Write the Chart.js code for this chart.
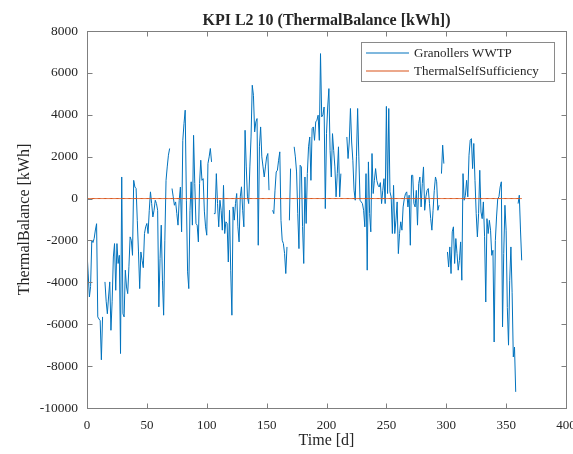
<!DOCTYPE html>
<html><head><meta charset="utf-8">
<script src="https://cdn.jsdelivr.net/npm/chart.js@4"></script>
<style>html,body{margin:0;padding:0;background:#fff;overflow:hidden}canvas{display:block}</style>
</head><body>
<canvas id="c" width="573" height="454" style="width:573px;height:454px"></canvas>
<script>
const chartTitle = 'KPI L2 10 (ThermalBalance [kWh])';
const xTitle = 'Time [d]';
const yTitle = 'ThermalBalance [kWh]';
const seriesNames = ['Granollers WWTP', 'ThermalSelfSufficiency'];
const xTicks = [0, 50, 100, 150, 200, 250, 300, 350, 400];
const yTicks = [-10000, -8000, -6000, -4000, -2000, 0, 2000, 4000, 6000, 8000];
const selfSufficiencyLevel = 0;
// daily thermal balance [kWh], day 0 .. 363 (null = missing day)
const thermalBalance = [
  -2550,-3600,-4700,-4200,-2000,-2100,-1900,-1500,-1200,-5650,
  -5750,-5830,-7700,-5650,null,-3980,-4900,-5500,-4700,-3980,
  -6290,-4900,-2790,-2150,-4380,-2150,-3100,-2710,-7400,1030,
  -5500,-5650,-3420,-4220,-4540,-3260,-1830,-1990,-2710,870,
  550,480,-1040,-2550,-4300,-2550,-2950,-3300,-1670,-1350,
  -1190,-1670,-560,320,-240,-880,-560,-80,-240,-560,
  -5170,-2870,-1270,-3900,-5570,-1990,870,1510,2070,2390,
  null,480,80,-320,-160,-720,-1270,-80,550,-1590,
  2780,3580,4220,-80,-3500,-4300,-560,800,-1270,3020,
  720,-1190,-1270,-2070,720,1830,870,950,-600,-1350,
  -1750,1670,1990,2390,1750,null,-720,-720,1190,-240,
  -1350,-80,-560,-1510,630,-1670,-1110,-1190,-3030,-560,
  -3420,-5570,-400,-1030,-240,240,-1350,-2070,80,560,
  -560,-1350,3260,1510,80,-240,1510,2940,5410,4930,
  3180,3660,3820,-2230,2500,3420,1990,1510,1030,1510,
  1990,2150,400,null,null,-560,-720,400,1270,1350,
  1830,2230,-1040,-1990,-2150,-2630,-3580,-2310,null,-1040,
  1430,null,null,2470,1990,1270,-720,-2390,1590,1510,
  -1340,-3100,1030,-1190,1190,2470,2940,870,3340,3420,
  2780,3660,3740,3980,2780,6920,3900,4000,4370,-480,
  3100,4370,5250,2300,1030,3100,2300,1510,80,1190,
  2470,80,1190,null,null,null,null,2940,1910,2700,
  4300,2700,1830,400,-80,1990,4300,1990,-80,-160,
  -240,-560,-1350,1190,-3420,1750,-720,-1590,2150,240,
  870,1430,870,640,550,760,-240,390,950,-240,
  4400,240,4300,320,80,-1670,630,-1670,-1030,-160,
  -2630,-1670,-1110,-1510,-400,0,240,320,-400,160,
  -2230,1110,1110,-240,-400,390,-1270,720,1030,-400,
  720,1510,-560,80,390,480,-240,-950,-1510,-560,
  390,1030,800,-560,-320,null,1190,2550,1670,null,
  null,-2550,-3270,-2310,-3580,-1590,-1350,-3100,-1910,-2630,
  -3420,-2950,-2070,-3900,1190,-80,160,870,80,2070,
  2780,2860,1430,2630,870,-720,-1830,-720,1350,-640,
  -960,-160,-1800,-4940,-960,-1670,-1040,-1510,-2710,-2470,
  -6850,-2000,-880,0,80,550,800,-6130,-2630,-320,
  -1510,-5200,-7000,-3900,-2310,-4500,-7560,-7090,-9230,null,
  -240,160,-1500,-2950
];
const days = thermalBalance.map((_, i) => i);

const FONT = '"Liberation Serif", "Times New Roman", serif';
const AXIS = '#7f7f7f';
const TEXT = '#262626';
const COLORS = ['#0072BD', '#D95319'];

const boxTicksLegend = {
  id: 'boxTicksLegend',
  afterDraw(chart) {
    const {ctx, chartArea: a, scales: {x, y}} = chart;
    ctx.save();
    // title centred over the axes
    ctx.fillStyle = TEXT;
    ctx.font = 'bold 16px ' + FONT;
    ctx.textAlign = 'center';
    ctx.textBaseline = 'alphabetic';
    ctx.fillText(chartTitle, (a.left + a.right) / 2, 25);
    // axes box and inward ticks
    ctx.strokeStyle = AXIS;
    ctx.lineWidth = 1;
    const L = Math.round(a.left) + 0.5, R = Math.round(a.right) + 0.5;
    const T = Math.round(a.top) + 0.5, B = Math.round(a.bottom) + 0.5;
    ctx.strokeRect(L, T, R - L, B - T);
    const tl = 5;
    ctx.beginPath();
    xTicks.forEach(v => {
      const px = Math.round(x.getPixelForValue(v)) + 0.5;
      ctx.moveTo(px, B); ctx.lineTo(px, B - tl);
      ctx.moveTo(px, T); ctx.lineTo(px, T + tl);
    });
    yTicks.forEach(v => {
      const py = Math.round(y.getPixelForValue(v)) + 0.5;
      ctx.moveTo(L, py); ctx.lineTo(L + tl, py);
      ctx.moveTo(R, py); ctx.lineTo(R - tl, py);
    });
    ctx.stroke();
    // legend box (top-right, inside axes)
    const bx = 361.5, by = 42.5, bw = 193, bh = 39;
    ctx.fillStyle = '#fff';
    ctx.fillRect(bx, by, bw, bh);
    ctx.strokeStyle = '#8a8a8a';
    ctx.strokeRect(bx, by, bw, bh);
    ctx.font = '13px ' + FONT;
    ctx.textAlign = 'left';
    ctx.textBaseline = 'middle';
    seriesNames.forEach((name, i) => {
      const ly = 53 + i * 18;
      ctx.strokeStyle = COLORS[i];
      ctx.lineWidth = 1.2;
      ctx.beginPath(); ctx.moveTo(366, ly); ctx.lineTo(409, ly); ctx.stroke();
      ctx.fillStyle = TEXT;
      ctx.fillText(name, 414, ly + 0.5);
    });
    ctx.restore();
  }
};

new Chart(document.getElementById('c'), {
  type: 'line',
  data: {
    datasets: [
      {
        label: seriesNames[0],
        data: days.map((d, i) => ({x: d, y: thermalBalance[i]})),
        borderColor: COLORS[0], borderWidth: 1, pointRadius: 0, spanGaps: false, tension: 0, order: 1
      },
      {
        label: seriesNames[1],
        data: days.map(d => ({x: d, y: selfSufficiencyLevel})),
        borderColor: COLORS[1], borderWidth: 1, pointRadius: 0, tension: 0, order: 0
      }
    ]
  },
  options: {
    responsive: false,
    animation: false,
    events: [],
    layout: {padding: {left: 0, right: 7, top: 31, bottom: 0}},
    plugins: {
      legend: {display: false},
      tooltip: {enabled: false},
      title: {display: false}
    },
    scales: {
      x: {
        type: 'linear', min: 0, max: 400,
        afterBuildTicks: s => { s.ticks = xTicks.map(v => ({value: v})); },
        afterFit: s => { s.height = 46; s.paddingLeft = 0; s.paddingRight = 0; },
        grid: {display: false, drawTicks: false},
        border: {display: false},
        ticks: {font: {family: FONT, size: 13}, color: TEXT, padding: 10, maxRotation: 0, autoSkip: false,
                callback: v => String(v)},
        title: {display: true, text: xTitle, color: TEXT, font: {family: FONT, size: 16}, padding: {top: 0, bottom: 4}}
      },
      y: {
        type: 'linear', min: -10000, max: 8000,
        afterBuildTicks: s => { s.ticks = yTicks.map(v => ({value: v})); },
        afterFit: s => { s.width = 87; s.paddingTop = 0; s.paddingBottom = 0; },
        grid: {display: false, drawTicks: false},
        border: {display: false},
        ticks: {font: {family: FONT, size: 13.5}, color: TEXT, padding: 9, autoSkip: false,
                callback: v => String(v)},
        title: {display: true, text: yTitle, color: TEXT, font: {family: FONT, size: 16}, padding: {top: 15, bottom: 0}}
      }
    }
  },
  plugins: [boxTicksLegend]
});
</script>
</body></html>
